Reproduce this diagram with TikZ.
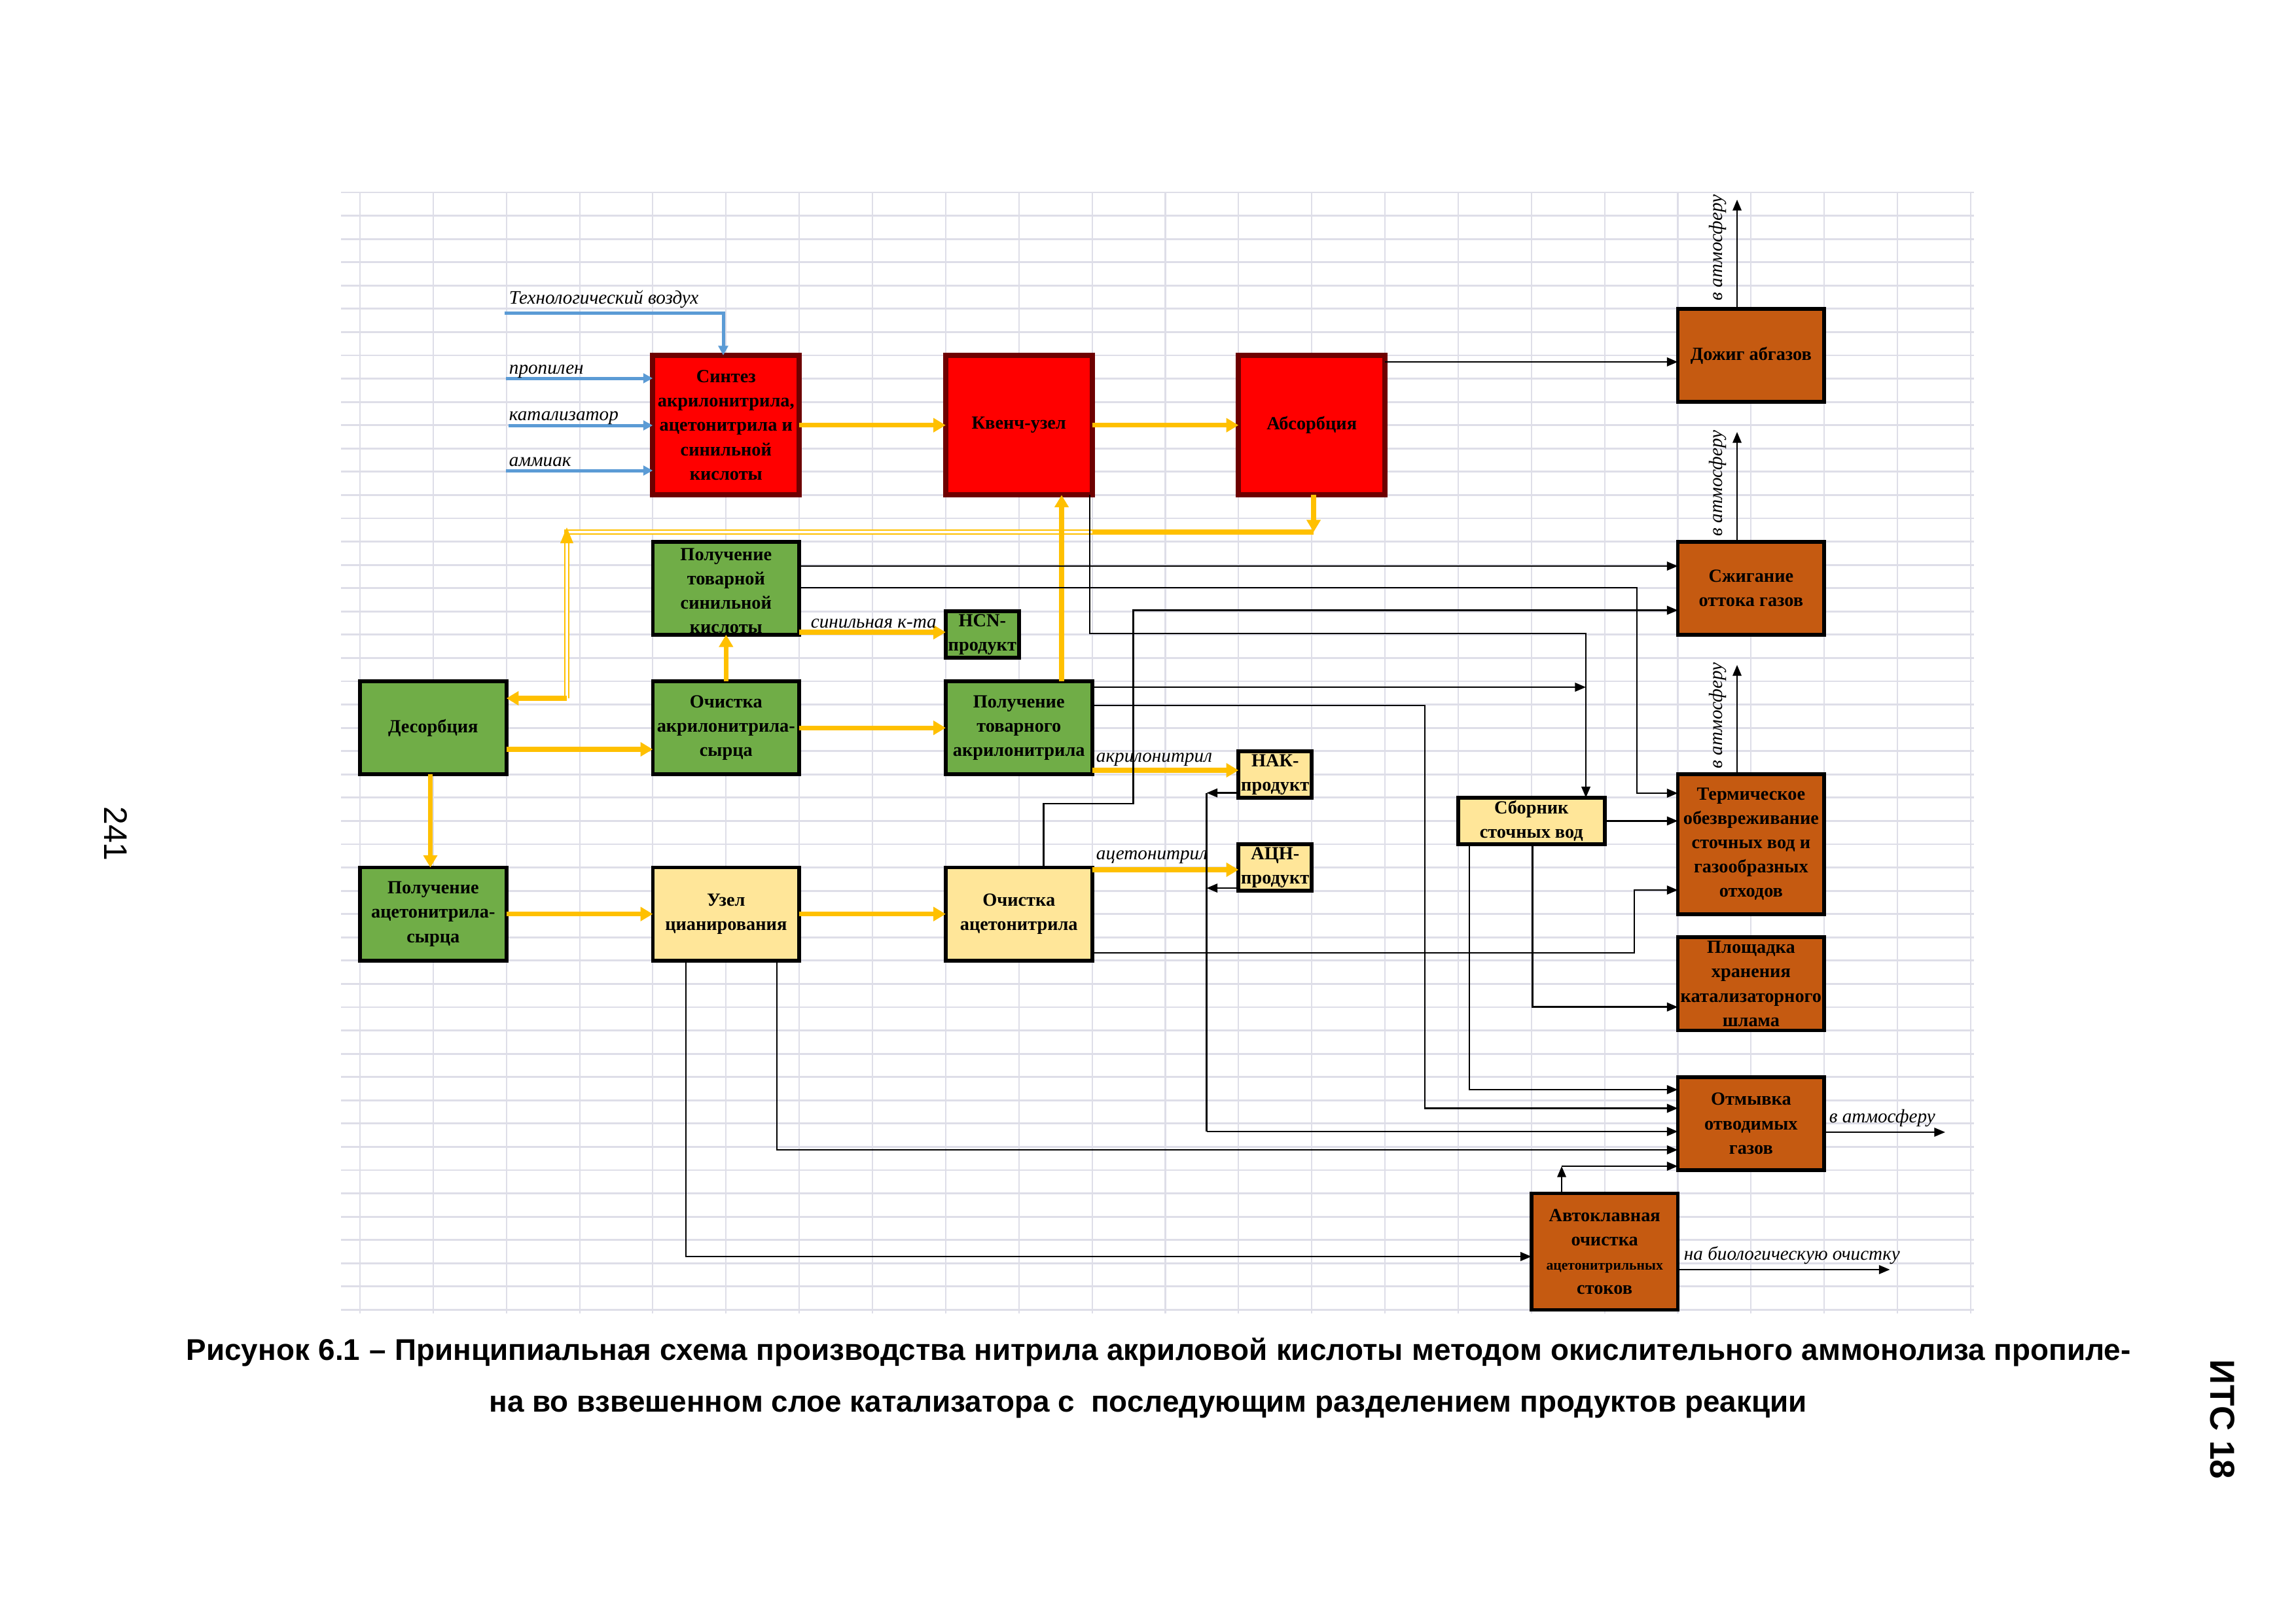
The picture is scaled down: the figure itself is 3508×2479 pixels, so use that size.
\documentclass[tikz,border=0pt]{standalone}
\usepackage{fontspec}
\setmainfont{Liberation Serif}
\newfontfamily\capfont{Liberation Sans}
\usetikzlibrary{arrows.meta,fit}
\definecolor{gridc}{RGB}{222,222,232}
\definecolor{redf}{RGB}{255,0,0}
\definecolor{redd}{RGB}{110,0,0}
\definecolor{greenf}{RGB}{112,173,71}
\definecolor{yellf}{RGB}{255,230,153}
\definecolor{orangef}{RGB}{197,90,17}
\definecolor{flowy}{RGB}{255,192,0}
\definecolor{flowb}{RGB}{91,155,213}
\begin{document}
\begin{tikzpicture}[x=0.24pt,y=-0.24pt,
 gridh/.style={draw=gridc,line width=0.7pt},
 gridv/.style={draw=gridc,line width=0.5pt},
 boxbase/.style={inner sep=0pt,outer sep=0pt},
 redbox/.style={boxbase,fill=redf,draw=redd,line width=1.9pt},
 greenbox/.style={boxbase,fill=greenf,draw=black,line width=1.4pt},
 ylwbox/.style={boxbase,fill=yellf,draw=black,line width=1.4pt},
 orgbox/.style={boxbase,fill=orangef,draw=black,line width=1.4pt},
 boxtext/.style={align=center,font=\fontsize{6.8}{8.9}\selectfont\bfseries,inner sep=0pt},
 flowlbl/.style={font=\fontsize{7}{8}\selectfont\itshape,inner sep=0.5pt},
 ylw/.style={draw=flowy,line width=1.7pt,-{Triangle[length=4.5pt,width=5pt]}},
 ylwplain/.style={draw=flowy,line width=1.7pt},
 ylwdbl/.style={draw=flowy,line width=0.55pt,double=white,double distance=0.9pt},
 blu/.style={draw=flowb,line width=1.2pt,-{Triangle[length=3.5pt,width=3.5pt]}},
 karrow/.style={draw=black,line width=0.6pt,-{Triangle[length=4pt,width=3.2pt]}},
 kline/.style={draw=black,line width=0.6pt},
]
\useasboundingbox (0,0) rectangle (3508,2479);
\fill[white] (0,0) rectangle (3508,2479);
% grid
\foreach \k in {0,...,48} \draw[gridh] (521,{294+35.57*\k}) -- (3016,{294+35.57*\k});
\foreach \c in {0,...,22} \draw[gridv] ({550+111.86*\c},294) -- ({550+111.86*\c},2007);

% boxes
\node[redbox,fit={(997.4,543) (1221.2,756.4)}] (synth) {};
\node[redbox,fit={(1444.9,543) (1668.6,756.4)}] (quench) {};
\node[redbox,fit={(1892.3,543) (2116,756.4)}] (absorb) {};
\node[orgbox,fit={(2563.5,471.9) (2787.2,614.1)}] (afterburn) {};
\node[orgbox,fit={(2563.5,827.6) (2787.2,969.8)}] (incin) {};
\node[greenbox,fit={(997.4,827.6) (1221.2,969.8)}] (hcnacid) {};
\node[greenbox,fit={(1444.9,934.3) (1556.7,1005.4)}] (hcn) {};
\node[greenbox,fit={(550,1041) (773.7,1183.3)}] (desorb) {};
\node[greenbox,fit={(997.4,1041) (1221.2,1183.3)}] (anpur) {};
\node[greenbox,fit={(1444.9,1041) (1668.6,1183.3)}] (anprod) {};
\node[ylwbox,fit={(1892.3,1147.7) (2004.2,1218.8)}] (nak) {};
\node[ylwbox,fit={(1892.3,1290) (2004.2,1361.1)}] (acn) {};
\node[ylwbox,fit={(2227.9,1218.8) (2451.6,1290)}] (collect) {};
\node[orgbox,fit={(2563.5,1183.3) (2787.2,1396.7)}] (thermal) {};
\node[orgbox,fit={(2563.5,1432.2) (2787.2,1574.5)}] (storage) {};
\node[greenbox,fit={(550,1325.5) (773.7,1467.8)}] (acnraw) {};
\node[ylwbox,fit={(997.4,1325.5) (1221.2,1467.8)}] (cyan) {};
\node[ylwbox,fit={(1444.9,1325.5) (1668.6,1467.8)}] (acnpur) {};
\node[orgbox,fit={(2563.5,1645.7) (2787.2,1787.9)}] (wash) {};
\node[orgbox,fit={(2339.8,1823.5) (2563.5,2001.4)}] (autoclave) {};

% box texts
\node[boxtext] (synth-t) at (synth.center) {Синтез\\акрилонитрила,\\ацетонитрила и\\синильной\\кислоты};
\node[boxtext] (quench-t) at (quench.center) {Квенч-узел};
\node[boxtext] (absorb-t) at (absorb.center) {Абсорбция};
\node[boxtext] (afterburn-t) at (afterburn.center) {Дожиг абгазов};
\node[boxtext] (incin-t) at (incin.center) {Сжигание\\оттока газов};
\node[boxtext] (hcnacid-t) at ([yshift=-1pt]hcnacid.center) {Получение\\товарной\\синильной\\кислоты};
\node[boxtext] (hcn-t) at (hcn.center) {HCN-\\продукт};
\node[boxtext] (desorb-t) at (desorb.center) {Десорбция};
\node[boxtext] (anpur-t) at (anpur.center) {Очистка\\акрилонитрила-\\сырца};
\node[boxtext] (anprod-t) at (anprod.center) {Получение\\товарного\\акрилонитрила};
\node[boxtext] (nak-t) at (nak.center) {НАК-\\продукт};
\node[boxtext] (acn-t) at (acn.center) {АЦН-\\продукт};
\node[boxtext] (collect-t) at (collect.center) {Сборник\\сточных вод};
\node[boxtext] (thermal-t) at (thermal.center) {Термическое\\обезвреживание\\сточных вод и\\газообразных\\отходов};
\node[boxtext] (storage-t) at (storage.center) {Площадка\\хранения\\катализаторного\\шлама};
\node[boxtext] (acnraw-t) at (acnraw.center) {Получение\\ацетонитрила-\\сырца};
\node[boxtext] (cyan-t) at (cyan.center) {Узел\\цианирования};
\node[boxtext] (acnpur-t) at (acnpur.center) {Очистка\\ацетонитрила};
\node[boxtext] (wash-t) at (wash.center) {Отмывка\\отводимых\\газов};
\node[boxtext] (autoclave-t) at (autoclave.center) {Автоклавная\\очистка\\{\fontsize{5.2}{8.9}\selectfont ацетонитрильных}\\стоков};

% blue inputs
\coordinate (air0) at (771,478);
\coordinate (pro0) at (773,578);
\coordinate (cat0) at (777,650);
\coordinate (amm0) at (773,719);
\draw[blu] (air0) -- (1105,478) -- (synth.north -| 1105,0);
\draw[blu] (pro0) -- (synth.west |- pro0);
\draw[blu] (cat0) -- (synth.west |- cat0);
\draw[blu] (amm0) -- (synth.west |- amm0);
\node[flowlbl,anchor=west] (air-l) at (775,457) {Технологический воздух};
\node[flowlbl,anchor=west] (pro-l) at (775,568) {пропилен};
\node[flowlbl,anchor=west] (cat-l) at (775,639) {катализатор};
\node[flowlbl,anchor=west] (amm-l) at (775,706) {аммиак};

% yellow flows
\draw[ylw] (synth.east) -- (quench.west);
\draw[ylw] (quench.east) -- (absorb.west);
\coordinate (rc1) at (2007,813);
\coordinate (rc2) at (1669,813);
\coordinate (rc3) at (866,813);
\coordinate (rc4) at (866,1067);
\draw[ylw] (absorb.south -| rc1) -- (rc1);
\draw[ylwplain] (rc1) -- (rc2);
\draw[ylwdbl] (rc2) -- (rc3) -- (rc4);
\fill[flowy] (856,830) -- (876,830) -- (866,806) -- cycle;
\draw[ylw] (rc4) -- (desorb.east |- rc4);
\draw[ylw] (anprod.north -| 1622,0) -- (quench.south -| 1622,0);
\draw[ylw] (anpur.north) -- (hcnacid.south);
\draw[ylw] (hcnacid.east |- 0,966) -- (hcn.west |- 0,966);
\draw[ylw] (desorb.east |- 0,1145) -- (anpur.west |- 0,1145);
\draw[ylw] (anpur.east) -- (anprod.west);
\draw[ylw] (desorb.south -| 657.5,0) -- (acnraw.north -| 657.5,0);
\draw[ylw] (acnraw.east) -- (cyan.west);
\draw[ylw] (cyan.east) -- (acnpur.west);
\draw[ylw] (anprod.east |- 0,1177) -- (nak.west |- 0,1177);
\draw[ylw] (acnpur.east |- 0,1329) -- (acn.west |- 0,1329);
\node[flowlbl,anchor=south west] (hcnflow-l) at (1236,963) {синильная к-та};
\node[flowlbl,anchor=south west] (anflow-l) at (1672,1174) {акрилонитрил};
\node[flowlbl,anchor=south west] (acnflow-l) at (1672,1323) {ацетонитрил};

% black flows
\draw[karrow] (absorb.east |- 0,553) -- (afterburn.west |- 0,553);
\coordinate (atm1) at (2654,305);
\coordinate (atm2) at (2654,660);
\coordinate (atm3) at (2654,1016);
\draw[karrow] (afterburn.north -| atm1) -- (atm1);
\draw[karrow] (incin.north -| atm2) -- (atm2);
\draw[karrow] (thermal.north -| atm3) -- (atm3);
\node[flowlbl,rotate=90,anchor=west] (atm1-l) at (2624,462) {в атмосферу};
\node[flowlbl,rotate=90,anchor=west] (atm2-l) at (2624,822) {в атмосферу};
\node[flowlbl,rotate=90,anchor=west] (atm3-l) at (2624,1177) {в атмосферу};
\draw[karrow] (hcnacid.east |- 0,865) -- (incin.west |- 0,865);
\draw[karrow] (hcnacid.east |- 0,898) -| (2501,1212) -- (thermal.west |- 0,1212);
\draw[karrow] (acnpur.north -| 1594.5,0) -- (1594.5,1228) -- (1731.7,1228) -- (1731.7,932.5) -- (incin.west |- 0,932.5);
\draw[karrow] (quench.south -| 1665,0) |- (2423,968) -- (collect.north -| 2423,0);
\draw[karrow] (anprod.east |- 0,1050) -- (2423,1050);
\draw[karrow] (anprod.east |- 0,1078) -| (2177,1693.5) -- (wash.west |- 0,1693.5);
\draw[karrow] (collect.east) -- (thermal.west |- collect.east);
\draw[karrow] (collect.south -| 2245,0) |- (wash.west |- 0,1665);
\draw[karrow] (collect.south -| 2341.6,0) |- (storage.west |- 0,1538.7);
\draw[karrow] (acnpur.east |- 0,1456) -| (2497,1360) -- (thermal.west |- 0,1360);
\draw[karrow] (nak.west |- 0,1211.6) -- (1843.5,1211.6);
\draw[kline] (1843.5,1211.6) -- (1843.5,1729);
\draw[karrow] (1843.5,1729) -- (wash.west |- 0,1729);
\draw[karrow] (acn.west |- 0,1357) -- (1843.5,1357);
\draw[karrow] (cyan.south -| 1048,0) |- (autoclave.west |- 0,1920);
\draw[karrow] (cyan.south -| 1187,0) |- (wash.west |- 0,1757);
\coordinate (ac1) at (2386,1782);
\draw[karrow] (autoclave.north -| ac1) -- (ac1);
\draw[karrow] (ac1) -- (wash.west |- ac1);
\coordinate (washout) at (2972,1730);
\coordinate (bioout) at (2887.5,1940);
\draw[karrow] (wash.east |- washout) -- (washout);
\draw[karrow] (autoclave.east |- bioout) -- (bioout);
\node[flowlbl,anchor=south west] (atm4-l) at (2792,1725) {в атмосферу};
\node[flowlbl,anchor=south west] (bio-l) at (2570,1935) {на биологическую очистку};

% caption and page marks
\node[font=\capfont\bfseries\fontsize{11}{13}\selectfont,inner sep=0pt] (cap1) at (1770,2066) {\makebox[713pt][s]{Рисунок 6.1 – Принципиальная схема производства нитрила акриловой кислоты методом окислительного аммонолиза пропиле-}};
\node[font=\capfont\bfseries\fontsize{11}{13}\selectfont,inner sep=0pt] (cap2) at (1754,2150) {на во взвешенном слое катализатора с\ \ последующим разделением продуктов реакции};
\node[font=\capfont\fontsize{12}{14}\selectfont,rotate=-90,inner sep=0pt] (pnum) at (177,1274) {241};
\node[font=\capfont\bfseries\fontsize{12.7}{14}\selectfont,rotate=-90,inner sep=0pt] (its) at (3396,2169) {ИТС 18};
\end{tikzpicture}
\end{document}
